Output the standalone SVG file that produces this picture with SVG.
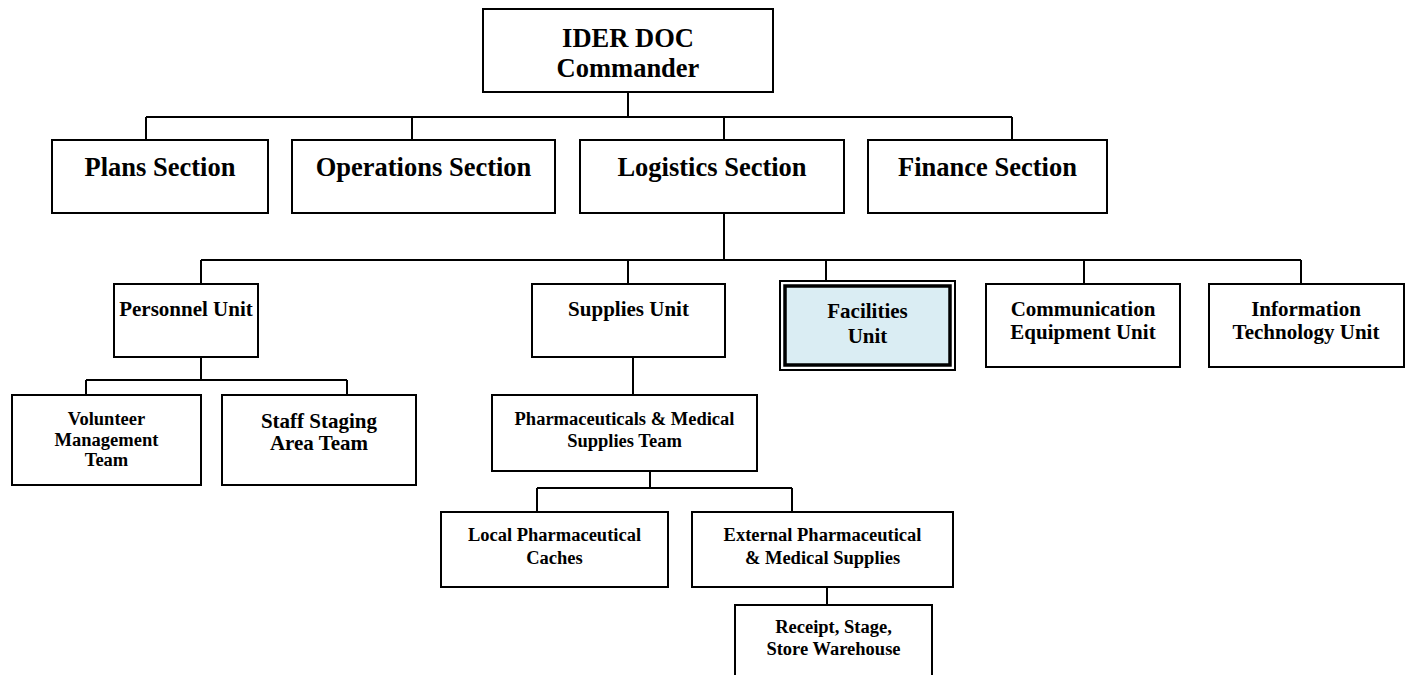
<svg xmlns="http://www.w3.org/2000/svg" width="1406" height="675" viewBox="0 0 1406 675">
<style>
.box{fill:#fff;stroke:#000;stroke-width:2}
.t{font-family:"Liberation Serif","Times New Roman",serif;font-weight:bold;fill:#000;text-anchor:middle}
.t26{font-size:26.5px}
.t21{font-size:21px}
.t18{font-size:18.5px}
.c{fill:none;stroke:#000;stroke-width:2}
</style>
<rect width="1406" height="675" fill="#fff"/>
<g id="connectors">
<path class="c" d="M628,92V117M146,117H1012M146,117V140M412,117V140M724,117V140M1012,117V140"/>
<path class="c" d="M724,213V260M201,260H1301M201,260V284M628,260V284M826,260V281M1084,260V284M1301,260V284"/>
<path class="c" d="M201,357V380M86,380H347M86,380V395M347,380V395"/>
<path class="c" d="M633,357V395M650,471V488M537,488H792M537,488V512M792,488V512M827,587V605"/>
</g>
<g id="commander"><rect class="box" x="483" y="9" width="290" height="83"/>
<text class="t t26" x="628" y="47">IDER DOC</text><text class="t t26" x="628" y="77">Commander</text></g>
<g id="plans"><rect class="box" x="52" y="140" width="216" height="73"/><text class="t t26" x="160" y="176">Plans Section</text></g>
<g id="operations"><rect class="box" x="292" y="140" width="263" height="73"/><text class="t t26" x="423.5" y="176">Operations Section</text></g>
<g id="logistics"><rect class="box" x="580" y="140" width="264" height="73"/><text class="t t26" x="712" y="176">Logistics Section</text></g>
<g id="finance"><rect class="box" x="868" y="140" width="239" height="73"/><text class="t t26" x="987.5" y="176">Finance Section</text></g>
<g id="personnel"><rect class="box" x="114" y="284" width="144" height="73"/><text class="t t21" x="186" y="316">Personnel Unit</text></g>
<g id="supplies"><rect class="box" x="532" y="284" width="193" height="73"/><text class="t t21" x="628.5" y="316">Supplies Unit</text></g>
<g id="facilities"><rect x="780" y="281" width="175" height="89" fill="#fff" stroke="#000" stroke-width="2"/>
<rect x="785" y="286" width="165" height="79" fill="#daedf3" stroke="#000" stroke-width="3.5"/>
<text class="t t21" x="867.5" y="318">Facilities</text><text class="t t21" x="867.5" y="343">Unit</text></g>
<g id="communication"><rect class="box" x="986" y="284" width="194" height="83"/><text class="t t21" x="1083" y="316">Communication</text><text class="t t21" x="1083" y="339">Equipment Unit</text></g>
<g id="it"><rect class="box" x="1209" y="284" width="195" height="83"/><text class="t t21" x="1306" y="316">Information</text><text class="t t21" x="1306" y="339">Technology Unit</text></g>
<g id="volunteer"><rect class="box" x="12" y="395" width="189" height="90"/><text class="t t18" x="106.5" y="425">Volunteer</text><text class="t t18" x="106.5" y="446">Management</text><text class="t t18" x="106.5" y="466">Team</text></g>
<g id="staff"><rect class="box" x="222" y="395" width="194" height="90"/><text class="t t21" x="319" y="428">Staff Staging</text><text class="t t21" x="319" y="450">Area Team</text></g>
<g id="pharma"><rect class="box" x="492" y="395" width="265" height="76"/><text class="t t18" x="624.5" y="425">Pharmaceuticals &amp; Medical</text><text class="t t18" x="624.5" y="447">Supplies Team</text></g>
<g id="local"><rect class="box" x="441" y="512" width="227" height="75"/><text class="t t18" x="554.5" y="541">Local Pharmaceutical</text><text class="t t18" x="554.5" y="564">Caches</text></g>
<g id="external"><rect class="box" x="692" y="512" width="261" height="75"/><text class="t t18" x="822.5" y="541">External Pharmaceutical</text><text class="t t18" x="822.5" y="564">&amp; Medical Supplies</text></g>
<g id="receipt"><rect class="box" x="735" y="605" width="197" height="90"/><text class="t t18" x="833.5" y="633">Receipt, Stage,</text><text class="t t18" x="833.5" y="655">Store Warehouse</text></g>
</svg>
